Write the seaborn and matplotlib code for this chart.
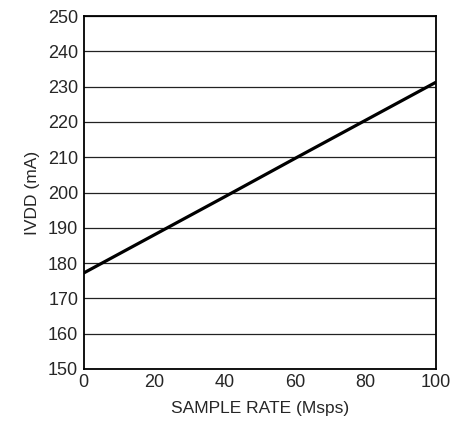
import matplotlib
matplotlib.use('Agg')
import matplotlib.pyplot as plt
import seaborn as sns
import pandas as pd

sample_rate = [0, 20, 40, 60, 80, 100]
ivdd = [177.2, 188.0, 198.8, 209.7, 220.5, 231.3]
y_ticks = [150, 160, 170, 180, 190, 200, 210, 220, 230, 240, 250]
x_ticks = [0, 20, 40, 60, 80, 100]

sns.set_style('white')
plt.rcParams['font.family'] = ['Liberation Sans', 'DejaVu Sans']

df = pd.DataFrame({'rate': sample_rate, 'ivdd': ivdd})

fig = plt.figure(figsize=(4.63, 4.25), dpi=100)
ax = fig.add_axes([0.181, 0.132, 0.761, 0.830])
sns.lineplot(data=df, x='rate', y='ivdd', color='black', linewidth=2.3, ax=ax)

ax.set_xlim(0, 100)
ax.set_ylim(150, 250)
ax.set_xticks(x_ticks)
ax.set_yticks(y_ticks)
ax.yaxis.grid(True, color='#222222', linewidth=0.9)
ax.xaxis.grid(False)
ax.tick_params(length=0, labelsize=13, pad=4)
for s in ax.spines.values():
    s.set_color('black')
    s.set_linewidth(1.3)
ax.set_xlabel('SAMPLE RATE (Msps)', fontsize=12.5, labelpad=7)
ax.set_ylabel('IVDD (mA)', fontsize=12.5, labelpad=6)

fig.savefig('out.png', dpi=100)
